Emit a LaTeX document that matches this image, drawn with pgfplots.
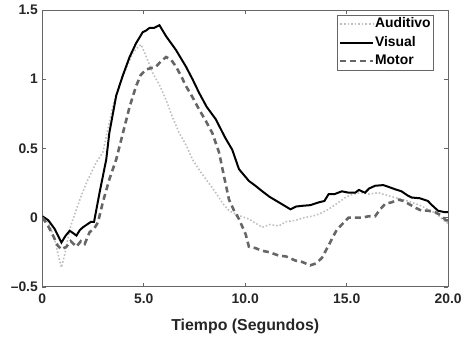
\documentclass[border=0pt]{standalone}
\usepackage{fontspec}
\setmainfont{Liberation Sans}
\usepackage{pgfplots}
\pgfplotsset{compat=1.18}
\begin{document}
\begin{tikzpicture}
\begin{axis}[
  scale only axis,
  width=407.5bp, height=278bp,
  xmin=0, xmax=20, ymin=-0.5, ymax=1.5,
  xtick={0,5,10,15,20},
  xticklabels={0,5.0,10.0,15.0,20.0},
  ytick={-0.5,0,0.5,1,1.5},
  yticklabels={{\textendash0.5},0,0.5,1,1.5},
  tick align=inside,
  major tick length=4bp,
  axis line style={draw=black!60, line width=0.8pt},
  tick style={black!60, line width=0.6pt},
  ticklabel style={font=\bfseries\fontsize{14}{15}\selectfont, text=black!85},
  xticklabel style={yshift=-3bp},
  yticklabel style={xshift=-1bp},
  xlabel={Tiempo (Segundos)},
  xlabel style={font=\bfseries\fontsize{16}{18}\selectfont, yshift=-9bp, text=black!85},
  legend style={at={(0.963,0.982)}, anchor=north east, draw=black!60, line width=0.6pt,
    font=\bfseries\fontsize{14}{15}\selectfont, inner sep=1.5bp, outer sep=0pt, row sep=3bp,
    nodes={text height=10.5bp, text depth=3bp, inner sep=1bp},
    cells={anchor=west}},
  legend image code/.code={\draw[#1] (0cm,0cm) -- (1.15cm,0cm);},
  clip=true,
]
\addplot[color=black!25, line width=1.6pt, dotted] coordinates {
(0,0.01) (0.2,-0.01) (0.37,-0.06) (0.6,-0.15) (0.8,-0.28) (0.94,-0.36) (1.1,-0.27) (1.19,-0.2)
(1.4,-0.06) (1.68,0.06) (1.9,0.15) (2.17,0.25) (2.4,0.32) (2.66,0.40) (2.98,0.47) (3.2,0.62)
(3.47,0.80) (3.7,0.92) (3.97,1.02) (4.2,1.10) (4.46,1.19) (4.7,1.23) (4.87,1.25) (5.1,1.17)
(5.44,1.045) (5.8,0.95) (6.1,0.85) (6.4,0.73) (6.75,0.61) (7.1,0.52) (7.4,0.42) (7.8,0.33)
(8.2,0.25) (8.55,0.18) (8.9,0.10) (9.2,0.05) (9.6,0.02) (10.18,-0.01) (10.5,-0.04) (10.84,-0.07)
(11.2,-0.05) (11.66,-0.06) (12.0,-0.03) (12.47,-0.02) (12.9,0.0) (13.3,0.01) (13.7,0.03)
(14.1,0.06) (14.5,0.10) (14.93,0.145) (15.3,0.17) (15.74,0.18) (16.1,0.17) (16.56,0.18)
(17.0,0.16) (17.38,0.145) (17.8,0.13) (18.2,0.11) (18.6,0.09) (19.0,0.06) (19.4,0.03)
(19.9,-0.035) (20,-0.04)
};
\addlegendentry{Auditivo}
\addplot[color=black, line width=2pt] coordinates {
(0,0.01) (0.3,-0.02) (0.6,-0.08) (0.94,-0.18) (1.15,-0.13) (1.35,-0.095) (1.5,-0.11) (1.68,-0.13)
(1.85,-0.09) (2.0,-0.07) (2.2,-0.05) (2.4,-0.03) (2.55,-0.03) (2.82,0.18) (3.15,0.42) (3.3,0.61)
(3.64,0.88) (3.95,1.02) (4.3,1.16) (4.62,1.26) (4.95,1.34) (5.1,1.35) (5.28,1.37) (5.5,1.37)
(5.77,1.39) (6.1,1.31) (6.59,1.21) (7.08,1.09) (7.4,1.00) (7.73,0.90) (8.1,0.80) (8.55,0.71)
(9.0,0.58) (9.36,0.49) (9.69,0.35) (10.18,0.265) (10.5,0.23) (10.84,0.19) (11.2,0.15)
(11.66,0.11) (12.0,0.08) (12.23,0.06) (12.5,0.08) (12.8,0.085) (13.2,0.09) (13.62,0.11)
(13.9,0.12) (14.11,0.17) (14.4,0.17) (14.76,0.19) (15.1,0.18) (15.42,0.18) (15.6,0.20)
(15.9,0.18) (16.1,0.21) (16.4,0.23) (16.8,0.235) (17.1,0.22) (17.38,0.205) (17.7,0.19)
(18.0,0.16) (18.2,0.145) (18.6,0.14) (19.0,0.12) (19.2,0.09) (19.5,0.05) (19.8,0.04) (20,0.04)
};
\addlegendentry{Visual}
\addplot[color=black!60, line width=2.6pt, dash pattern=on 6pt off 4pt] coordinates {
(0,0.0) (0.25,-0.05) (0.53,-0.13) (0.75,-0.2) (0.94,-0.23) (1.19,-0.21) (1.4,-0.17) (1.68,-0.21)
(1.9,-0.17) (2.09,-0.19) (2.33,-0.105) (2.55,-0.08) (2.74,-0.035) (2.98,0.11) (3.31,0.28)
(3.64,0.42) (3.97,0.61) (4.3,0.80) (4.62,0.95) (4.85,1.03) (5.11,1.07) (5.35,1.08) (5.6,1.09)
(5.85,1.13) (6.1,1.16) (6.35,1.14) (6.59,1.09) (6.85,1.02) (7.08,0.95) (7.4,0.87) (7.73,0.78)
(8.05,0.70) (8.38,0.61) (8.71,0.47) (8.95,0.30) (9.2,0.13) (9.45,0.05) (9.69,-0.01)
(10.02,-0.12) (10.18,-0.21) (10.5,-0.22) (10.84,-0.24) (11.2,-0.25) (11.66,-0.275) (12.0,-0.28)
(12.47,-0.31) (12.8,-0.32) (13.2,-0.345) (13.5,-0.33) (13.78,-0.29) (14.0,-0.23) (14.27,-0.155)
(14.5,-0.09) (14.76,-0.05) (15.09,0.0) (15.4,0.0) (15.74,0.0) (16.1,0.01) (16.4,0.01)
(16.65,0.06) (16.9,0.1) (17.2,0.11) (17.55,0.13) (17.8,0.12) (18.04,0.1) (18.4,0.07)
(18.69,0.05) (19.0,0.05) (19.35,0.04) (19.6,0.02) (19.9,-0.02) (20,-0.02)
};
\addlegendentry{Motor}
\end{axis}
\path (current axis.south west) ++(-42.5bp,-51bp) coordinate (bl);
\path (current axis.north east) ++(15bp,10bp) coordinate (tr);
\useasboundingbox (bl) rectangle (tr);
\end{tikzpicture}
\end{document}
